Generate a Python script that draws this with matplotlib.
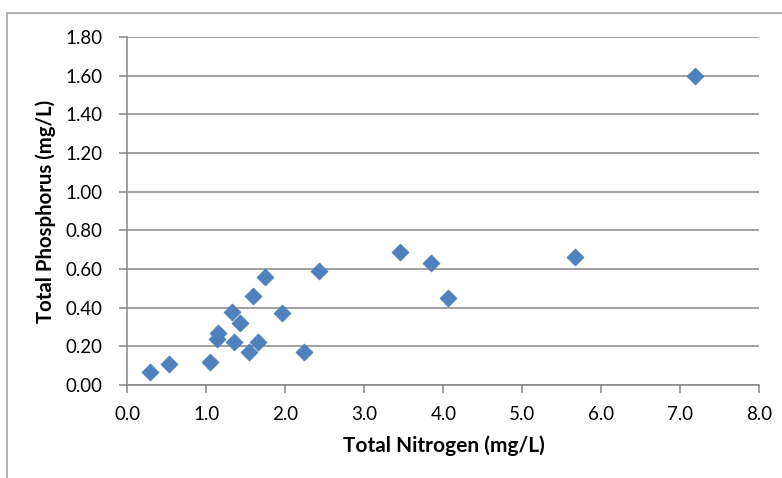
import matplotlib.pyplot as plt
from matplotlib.patches import Rectangle

# Total nitrogen vs total phosphorus samples (mg/L)
nitrogen = [0.28, 0.53, 1.04, 1.13, 1.15, 1.32, 1.35, 1.43, 1.54, 1.59,
            1.65, 1.74, 1.96, 2.24, 2.42, 3.45, 3.84, 4.06, 5.67, 7.18]
phosphorus = [0.066, 0.11, 0.12, 0.24, 0.27, 0.38, 0.22, 0.32, 0.17, 0.46,
              0.22, 0.56, 0.37, 0.17, 0.59, 0.69, 0.63, 0.45, 0.66, 1.60]

x_ticks = [0, 1, 2, 3, 4, 5, 6, 7, 8]
y_ticks = [0.0, 0.2, 0.4, 0.6, 0.8, 1.0, 1.2, 1.4, 1.6, 1.8]

plt.rcParams['font.family'] = ['Lato', 'DejaVu Sans']

fig = plt.figure(figsize=(7.82, 4.78), dpi=100)
ax = fig.add_axes([0.163, 0.1946, 0.808, 0.728])

# light frame round the chart area
fig.patches.append(Rectangle((7 / 782, -0.1), 1.2, 1 - 13 / 478 + 0.1,
                             transform=fig.transFigure, fill=False,
                             edgecolor='#A6A6A6', linewidth=1.2))

ax.scatter(nitrogen, phosphorus, marker='D', s=75, color='#4F81BD',
           edgecolor='#4A7AB5', linewidth=0.5, zorder=3)

ax.set_xlim(0, 8)
ax.set_ylim(0, 1.8)
ax.set_xticks(x_ticks)
ax.set_xticklabels([f'{v:.1f}' for v in x_ticks])
ax.set_yticks(y_ticks)
ax.set_yticklabels([f'{v:.2f}' for v in y_ticks])

ax.grid(axis='y', color='#868686', linewidth=1.1)
ax.set_axisbelow(True)
for side in ['top', 'right']:
    ax.spines[side].set_visible(False)
for side in ['left', 'bottom']:
    ax.spines[side].set_color('#868686')
    ax.spines[side].set_linewidth(1.1)

ax.tick_params(axis='both', colors='#868686', labelcolor='black',
               labelsize=13.5, length=6, width=1.1)
ax.tick_params(axis='y', pad=12)
ax.tick_params(axis='x', pad=9)

ax.set_xlabel('Total Nitrogen (mg/L)', fontsize=15, fontweight='bold', labelpad=9)
ax.set_ylabel('Total Phosphorus (mg/L)', fontsize=14.7, fontweight='bold', labelpad=7)

fig.savefig('out.png', dpi=100)
